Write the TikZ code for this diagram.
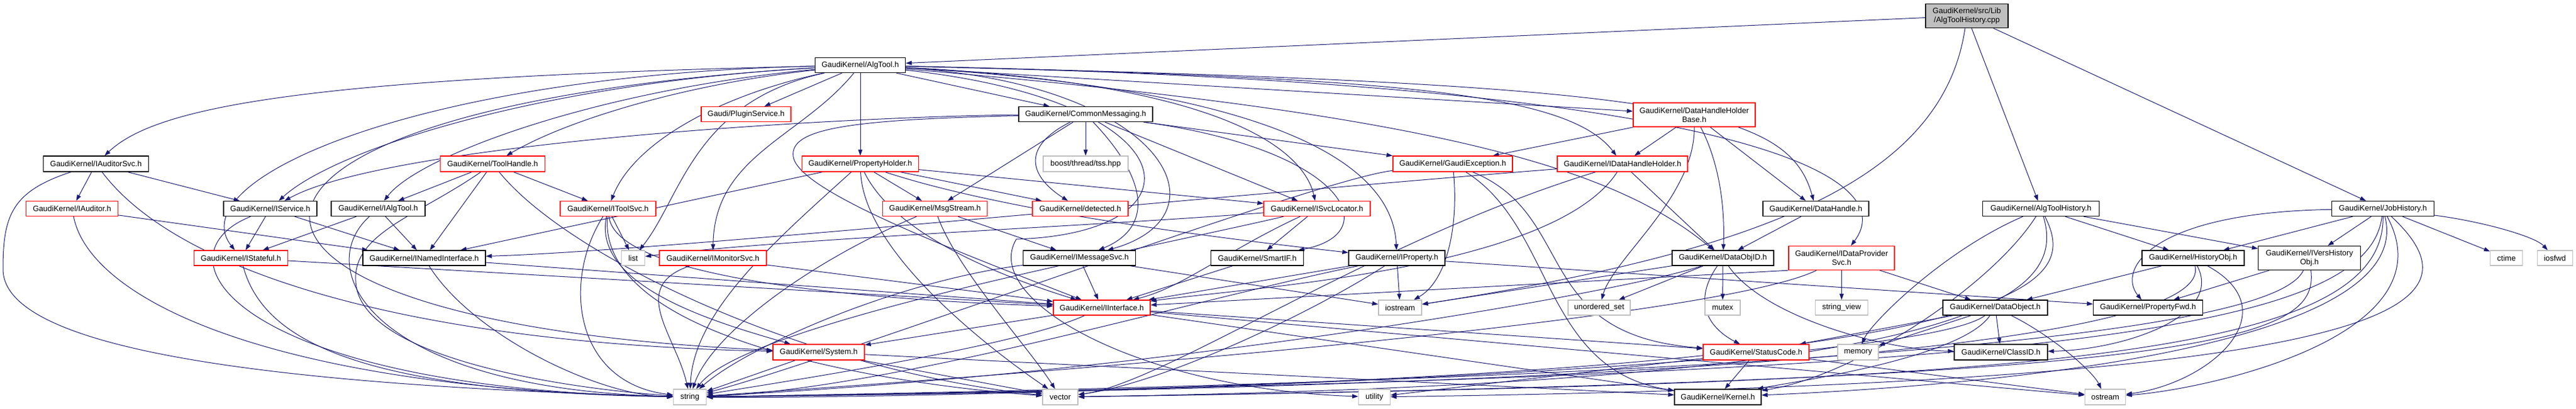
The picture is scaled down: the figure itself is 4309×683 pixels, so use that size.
\documentclass[tikz,border=0pt]{standalone}
\usepackage{fontspec}
\setmainfont{Liberation Sans}
\usetikzlibrary{arrows.meta}
\definecolor{edgeblue}{HTML}{191970}
\definecolor{sysgray}{HTML}{BFBFBF}
\pgfdeclarelayer{bg}
\pgfsetlayers{bg,main}
\begin{document}
\begin{tikzpicture}[x=1pt,y=-1pt]
    \tikzstyle{hdr}=[draw=black, line width=1.3pt, fill=white, inner sep=0pt, align=center, font=\fontsize{13}{15}\selectfont]
    \tikzstyle{trunc}=[hdr, draw=red]
    \tikzstyle{sys}=[hdr, draw=sysgray]
    \tikzstyle{root}=[hdr, fill=sysgray]
    \tikzstyle{incl}=[draw=edgeblue, line width=1pt, -{Triangle[length=10pt,width=7pt]}]
    \useasboundingbox (0,0) rectangle (4309,683);
    % row 0 and 1
    \node[root, minimum width=138, minimum height=40] (cpp) at (3290,26.5) {GaudiKernel/src/Lib\\/AlgToolHistory.cpp};
    \node[hdr, minimum width=151, minimum height=25] (AlgTool) at (1439,109) {GaudiKernel/AlgTool.h};
    % row 2
    \node[trunc, minimum width=150, minimum height=25] (PluginService) at (1248,191) {Gaudi/PluginService.h};
    \node[hdr, minimum width=224, minimum height=25] (CommonMessaging) at (1816,191) {GaudiKernel/CommonMessaging.h};
    \node[trunc, minimum width=204, minimum height=40] (DataHandleHolderBase) at (2834,192) {GaudiKernel/DataHandleHolder\\Base.h};
    % row 3
    \node[hdr, minimum width=176, minimum height=26] (IAuditorSvc) at (160.5,274) {GaudiKernel/IAuditorSvc.h};
    \node[trunc, minimum width=175, minimum height=26] (ToolHandle) at (824,274) {GaudiKernel/ToolHandle.h};
    \node[trunc, minimum width=195, minimum height=26] (PropertyHolder) at (1439,274) {GaudiKernel/PropertyHolder.h};
    \node[sys, minimum width=142, minimum height=26] (boost) at (1816,274) {boost/thread/tss.hpp};
    \node[trunc, minimum width=200, minimum height=26] (GaudiException) at (2430,274) {GaudiKernel/GaudiException.h};
    \node[trunc, minimum width=218, minimum height=26] (IDataHandleHolder) at (2714,274) {GaudiKernel/IDataHandleHolder.h};
    % row 4
    \node[trunc, minimum width=154, minimum height=25] (IAuditor) at (120.5,349) {GaudiKernel/IAuditor.h};
    \node[hdr, minimum width=156, minimum height=25] (IService) at (452,349) {GaudiKernel/IService.h};
    \node[hdr, minimum width=157, minimum height=25] (IAlgTool) at (632.5,349) {GaudiKernel/IAlgTool.h};
    \node[trunc, minimum width=160, minimum height=25] (IToolSvc) at (1017,349) {GaudiKernel/IToolSvc.h};
    \node[trunc, minimum width=175, minimum height=25] (MsgStream) at (1564,349) {GaudiKernel/MsgStream.h};
    \node[trunc, minimum width=160, minimum height=25] (detected) at (1807,349) {GaudiKernel/detected.h};
    \node[trunc, minimum width=178, minimum height=25] (ISvcLocator) at (2203,349) {GaudiKernel/ISvcLocator.h};
    \node[hdr, minimum width=177, minimum height=25] (DataHandle) at (3037.5,349) {GaudiKernel/DataHandle.h};
    \node[hdr, minimum width=195, minimum height=25] (AlgToolHistory) at (3414,349) {GaudiKernel/AlgToolHistory.h};
    \node[hdr, minimum width=171, minimum height=25] (JobHistory) at (3986,349) {GaudiKernel/JobHistory.h};
    % row 5
    \node[trunc, minimum width=157, minimum height=25] (IStateful) at (403,431.5) {GaudiKernel/IStateful.h};
    \node[hdr, minimum width=205, minimum height=25] (INamedInterface) at (709.5,431.5) {GaudiKernel/INamedInterface.h};
    \node[sys, minimum width=39, minimum height=25] (list) at (1059,431.5) {list};
    \node[trunc, minimum width=179, minimum height=25] (IMonitorSvc) at (1192.5,431.5) {GaudiKernel/IMonitorSvc.h};
    \node[hdr, minimum width=188, minimum height=25] (IMessageSvc) at (1805.6,431.5) {GaudiKernel/IMessageSvc.h};
    \node[hdr, minimum width=155, minimum height=25] (SmartIF) at (2103,431.5) {GaudiKernel/SmartIF.h};
    \node[hdr, minimum width=161, minimum height=25] (IProperty) at (2336.5,431.5) {GaudiKernel/IProperty.h};
    \node[hdr, minimum width=170, minimum height=25] (DataObjID) at (2882,431.5) {GaudiKernel/DataObjID.h};
    \node[trunc, minimum width=177, minimum height=40] (IDataProviderSvc) at (3080.5,431.5) {GaudiKernel/IDataProvider\\Svc.h};
    \node[hdr, minimum width=171, minimum height=25] (HistoryObj) at (3668.5,431.5) {GaudiKernel/HistoryObj.h};
    \node[hdr, minimum width=171, minimum height=40] (IVersHistoryObj) at (3863,431.5) {GaudiKernel/IVersHistory\\Obj.h};
    \node[sys, minimum width=54, minimum height=25] (ctime) at (4192.7,431.5) {ctime};
    \node[sys, minimum width=59, minimum height=25] (iosfwd) at (4273.7,431.5) {iosfwd};
    % row 6
    \node[trunc, minimum width=162, minimum height=25] (IInterface) at (1843,514.5) {GaudiKernel/IInterface.h};
    \node[sys, minimum width=72, minimum height=25] (iostream) at (2342,514.5) {iostream};
    \node[sys, minimum width=104, minimum height=25] (unorderedset) at (2675,514.5) {unordered\_set};
    \node[sys, minimum width=59, minimum height=25] (mutex) at (2881.5,514.5) {mutex};
    \node[sys, minimum width=88, minimum height=25] (stringview) at (3080.5,514.5) {string\_view};
    \node[hdr, minimum width=175, minimum height=25] (DataObject) at (3337.5,514.5) {GaudiKernel/DataObject.h};
    \node[hdr, minimum width=183, minimum height=25] (PropertyFwd) at (3593,514.5) {GaudiKernel/PropertyFwd.h};
    % row 7
    \node[trunc, minimum width=153, minimum height=26] (System) at (1369.5,589) {GaudiKernel/System.h};
    \node[trunc, minimum width=177, minimum height=26] (StatusCode) at (2937.5,589) {GaudiKernel/StatusCode.h};
    \node[sys, minimum width=68, minimum height=26] (memory) at (3108,589) {memory};
    \node[hdr, minimum width=156, minimum height=26] (ClassID) at (3347,589) {GaudiKernel/ClassID.h};
    % row 8
    \node[sys, minimum width=55, minimum height=26] (string) at (1154,664) {string};
    \node[sys, minimum width=59, minimum height=26] (vector) at (1773.5,664) {vector};
    \node[sys, minimum width=53, minimum height=26] (utility) at (2299,664) {utility};
    \node[hdr, minimum width=145, minimum height=26] (Kernel) at (2873.5,664) {GaudiKernel/Kernel.h};
    \node[sys, minimum width=68, minimum height=26] (ostream) at (3521.5,664) {ostream};
    \begin{pgfonlayer}{bg}
    % source file
    \draw[incl] (cpp) -- (AlgTool);
    \draw[incl] (cpp) .. controls (3250,300) and (2950,420) .. (iostream);
    \draw[incl] (cpp) -- (AlgToolHistory);
    \draw[incl] (cpp) -- (JobHistory);
    % AlgTool.h
    \draw[incl] (AlgTool) .. controls (500,130) and (260,180) .. (IAuditorSvc);
    \draw[incl] (AlgTool) .. controls (700,125) and (300,300) .. (IStateful);
    \draw[incl] (AlgTool) .. controls (900,140) and (560,250) .. (IService);
    \draw[incl] (AlgTool) .. controls (1000,150) and (700,260) .. (IAlgTool);
    \draw[incl] (AlgTool) .. controls (250,180) and (250,540) .. (System);
    \draw[incl] (AlgTool) .. controls (1150,140) and (950,200) .. (ToolHandle);
    \draw[incl] (AlgTool) .. controls (1200,160) and (1060,240) .. (IToolSvc);
    \draw[incl] (AlgTool) .. controls (1160,170) and (1140,330) .. (list);
    \draw[incl] (AlgTool) -- (PluginService);
    \draw[incl] (AlgTool) .. controls (1340,230) and (1195,260) .. (IMonitorSvc);
    \draw[incl] (AlgTool) -- (PropertyHolder);
    \draw[incl] (AlgTool) -- (CommonMessaging);
    \draw[incl] (AlgTool) .. controls (1950,140) and (2060,360) .. (IMessageSvc);
    \draw[incl] (AlgTool) .. controls (2050,140) and (2180,250) .. (ISvcLocator);
    \draw[incl] (AlgTool) .. controls (2150,150) and (2330,280) .. (IProperty);
    \draw[incl] (AlgTool) .. controls (2300,130) and (2620,150) .. (IDataHandleHolder);
    \draw[incl] (AlgTool) -- (DataHandleHolderBase);
    \draw[incl] (AlgTool) .. controls (2800,140) and (2990,180) .. (DataHandle);
    \draw[incl] (AlgTool) .. controls (2950,140) and (3180,300) .. (IDataProviderSvc);
    \draw[incl] (AlgTool) .. controls (2400,190) and (2700,280) .. (DataObjID);
    \draw[incl] (AlgTool) .. controls (2000,170) and (2020,390) .. (1700,400) .. controls (1640,500) and (1900,650) .. (utility);
    % IAuditorSvc.h and the interfaces
    \draw[incl] (IAuditorSvc) -- (IAuditor);
    \draw[incl] (IAuditorSvc) -- (IService);
    \draw[incl] (IAuditorSvc) .. controls (300,460) and (700,575) .. (System);
    \draw[incl] (IAuditorSvc) .. controls (20,320) and (5,360) .. (5,450) .. controls (5,560) and (300,640) .. (string);
    \draw[incl] (IAuditor) -- (INamedInterface);
    \draw[incl] (IAuditor) .. controls (150,500) and (450,650) .. (string);
    \draw[incl] (IService) -- (IStateful);
    \draw[incl] (IService) -- (INamedInterface);
    \draw[incl] (IService) .. controls (250,430) and (400,650) .. (string);
    \draw[incl] (IAlgTool) -- (IStateful);
    \draw[incl] (IAlgTool) -- (INamedInterface);
    \draw[incl] (IAlgTool) .. controls (520,450) and (620,650) .. (string);
    \draw[incl] (IStateful) -- (IInterface);
    \draw[incl] (IStateful) .. controls (440,570) and (600,655) .. (string);
    \draw[incl] (INamedInterface) -- (IInterface);
    \draw[incl] (INamedInterface) .. controls (790,560) and (1000,662) .. (string);
    % ToolHandle.h, IToolSvc.h, IMonitorSvc.h
    \draw[incl] (ToolHandle) -- (IAlgTool);
    \draw[incl] (ToolHandle) -- (INamedInterface);
    \draw[incl] (ToolHandle) -- (IToolSvc);
    \draw[incl] (ToolHandle) .. controls (950,430) and (1350,620) .. (vector);
    \draw[incl] (ToolHandle) .. controls (700,360) and (590,390) .. (595,470) .. controls (600,600) and (950,650) .. (string);
    \draw[incl] (IToolSvc) -- (list);
    \draw[incl] (IToolSvc) .. controls (940,470) and (960,640) .. (string);
    \draw[incl] (IToolSvc) .. controls (990,480) and (1200,540) .. (System);
    \draw[incl] (IToolSvc) .. controls (1030,460) and (1400,500) .. (IInterface);
    \draw[incl] (IToolSvc) .. controls (1000,560) and (1450,640) .. (vector);
    \draw[incl] (IMonitorSvc) -- (IInterface);
    \draw[incl] (IMonitorSvc) .. controls (1050,480) and (1130,560) .. (string);
    % PropertyHolder.h
    \draw[incl] (PropertyHolder) -- (MsgStream);
    \draw[incl] (PropertyHolder) -- (detected);
    \draw[incl] (PropertyHolder) -- (ISvcLocator);
    \draw[incl] (PropertyHolder) -- (INamedInterface);
    \draw[incl] (PropertyHolder) .. controls (1700,360) and (2100,405) .. (IProperty);
    \draw[incl] (PropertyHolder) .. controls (1300,400) and (1160,520) .. (string);
    \draw[incl] (PropertyHolder) .. controls (1445,420) and (1650,580) .. (vector);
    \draw[incl] (PropertyHolder) .. controls (1500,400) and (1700,470) .. (IInterface);
    % CommonMessaging.h
    \draw[incl] (CommonMessaging) -- (boost);
    \draw[incl] (CommonMessaging) -- (MsgStream);
    \draw[incl] (CommonMessaging) .. controls (1700,250) and (1730,300) .. (detected);
    \draw[incl] (CommonMessaging) .. controls (1920,300) and (1930,380) .. (IMessageSvc);
    \draw[incl] (CommonMessaging) -- (ISvcLocator);
    \draw[incl] (CommonMessaging) -- (GaudiException);
    \draw[incl] (CommonMessaging) .. controls (2250,250) and (2320,390) .. (SmartIF);
    \draw[incl] (CommonMessaging) .. controls (1400,195) and (650,240) .. (IService);
    \draw[incl] (CommonMessaging) .. controls (1420,200) and (1320,215) .. (1327,262) .. controls (1335,320) and (1600,420) .. (IInterface);
    % MsgStream.h, IMessageSvc.h, ISvcLocator.h, SmartIF.h
    \draw[incl] (MsgStream) -- (IMessageSvc);
    \draw[incl] (MsgStream) .. controls (1350,440) and (1190,560) .. (string);
    \draw[incl] (MsgStream) .. controls (1600,450) and (1720,580) .. (vector);
    \draw[incl] (IMessageSvc) -- (IInterface);
    \draw[incl] (IMessageSvc) .. controls (1500,470) and (1250,580) .. (string);
    \draw[incl] (IMessageSvc) -- (iostream);
    \draw[incl] (ISvcLocator) .. controls (1800,380) and (1300,400) .. (list);
    \draw[incl] (ISvcLocator) .. controls (2050,420) and (1980,480) .. (IInterface);
    \draw[incl] (ISvcLocator) -- (SmartIF);
    \draw[incl] (ISvcLocator) .. controls (1900,420) and (1250,540) .. (string);
    \draw[incl] (SmartIF) -- (IInterface);
    % IProperty.h
    \draw[incl] (IProperty) -- (iostream);
    \draw[incl] (IProperty) -- (PropertyFwd);
    \draw[incl] (IProperty) -- (IInterface);
    \draw[incl] (IProperty) .. controls (2000,500) and (1500,650) .. (string);
    \draw[incl] (IProperty) .. controls (2200,520) and (1950,640) .. (vector);
    % GaudiException.h
    \draw[incl] (GaudiException) .. controls (2440,380) and (2420,470) .. (iostream);
    \draw[incl] (GaudiException) .. controls (2200,300) and (1400,600) .. (string);
    \draw[incl] (GaudiException) .. controls (2600,380) and (2580,620) .. (Kernel);
    \draw[incl] (GaudiException) .. controls (2640,360) and (2560,560) .. (StatusCode);
    % data handles
    \draw[incl] (IDataHandleHolder) -- (DataObjID);
    \draw[incl] (IDataHandleHolder) .. controls (2600,450) and (2100,480) .. (IInterface);
    \draw[incl] (IDataHandleHolder) .. controls (2000,330) and (1100,420) .. (INamedInterface);
    \draw[incl] (IDataHandleHolder) .. controls (2300,400) and (1950,640) .. (vector);
    \draw[incl] (DataHandleHolderBase) -- (GaudiException);
    \draw[incl] (DataHandleHolderBase) -- (IDataHandleHolder);
    \draw[incl] (DataHandleHolderBase) -- (DataHandle);
    \draw[incl] (DataHandleHolderBase) .. controls (2880,280) and (2885,360) .. (DataObjID);
    \draw[incl] (DataHandleHolderBase) .. controls (2835,330) and (2700,430) .. (unorderedset);
    \draw[incl] (DataHandle) -- (DataObjID);
    \draw[incl] (DataObjID) -- (mutex);
    \draw[incl] (DataObjID) .. controls (2820,520) and (2880,560) .. (StatusCode);
    \draw[incl] (DataObjID) .. controls (2950,530) and (3150,585) .. (ClassID);
    \draw[incl] (DataObjID) -- (unorderedset);
    \draw[incl] (DataObjID) -- (iostream);
    \draw[incl] (DataObjID) .. controls (2750,480) and (2000,620) .. (string);
    % IDataProviderSvc.h, DataObject.h
    \draw[incl] (IDataProviderSvc) -- (stringview);
    \draw[incl] (IDataProviderSvc) -- (DataObject);
    \draw[incl] (IDataProviderSvc.south west) -- (IInterface);
    \draw[incl] (IDataProviderSvc) .. controls (2900,520) and (2100,600) .. (string);
    \draw[incl] (DataObject) -- (ClassID);
    \draw[incl] (DataObject) -- (StatusCode);
    \draw[incl] (DataObject) -- (memory);
    \draw[incl] (DataObject) .. controls (3430,560) and (3500,620) .. (ostream);
    \draw[incl] (DataObject) .. controls (3280,600) and (2990,640) .. (Kernel);
    \draw[incl] (DataObject) .. controls (3200,620) and (1600,668) .. (string);
    % StatusCode.h, IInterface.h, System.h
    \draw[incl] (StatusCode) -- (Kernel);
    \draw[incl] (StatusCode) -- (ostream);
    \draw[incl] (StatusCode) -- (utility);
    \draw[incl] (IInterface) -- (System);
    \draw[incl] (IInterface) -- (StatusCode);
    \draw[incl] (IInterface) -- (Kernel);
    \draw[incl] (IInterface) -- (ostream);
    \draw[incl] (IInterface) .. controls (1700,580) and (1300,640) .. (string);
    \draw[incl] (System) -- (string);
    \draw[incl] (System) -- (vector);
    \draw[incl] (System) -- (Kernel);
    % AlgToolHistory.h
    \draw[incl] (AlgToolHistory) -- (HistoryObj);
    \draw[incl] (AlgToolHistory) -- (IVersHistoryObj);
    \draw[incl] (AlgToolHistory) .. controls (3250,420) and (3130,540) .. (memory);
    \draw[incl] (AlgToolHistory) .. controls (3330,480) and (3100,630) .. (Kernel);
    \draw[incl] (AlgToolHistory) .. controls (3480,480) and (3440,640) .. (string);
    \draw[incl] (AlgToolHistory) .. controls (3460,500) and (3300,640) .. (vector);
    % JobHistory.h
    \draw[incl] (JobHistory) -- (HistoryObj);
    \draw[incl] (JobHistory) -- (IVersHistoryObj);
    \draw[incl] (JobHistory) -- (ctime);
    \draw[incl] (JobHistory) .. controls (4150,370) and (4240,395) .. (iosfwd);
    \draw[incl] (JobHistory) .. controls (3600,355) and (3540,450) .. (PropertyFwd);
    \draw[incl] (JobHistory) .. controls (3960,560) and (3400,630) .. (string);
    \draw[incl] (JobHistory) .. controls (3990,600) and (3400,640) .. (vector);
    \draw[incl] (JobHistory) .. controls (4170,520) and (4000,640) .. (utility);
    \draw[incl] (JobHistory) .. controls (4100,560) and (3700,650) .. (ostream);
    \draw[incl] (JobHistory) .. controls (4050,600) and (3200,650) .. (Kernel);
    % HistoryObj.h, IVersHistoryObj.h
    \draw[incl] (HistoryObj) -- (DataObject);
    \draw[incl] (HistoryObj) .. controls (3720,530) and (3550,585) .. (ClassID);
    \draw[incl] (HistoryObj) .. controls (3830,520) and (3700,640) .. (ostream);
    \draw[incl] (HistoryObj) .. controls (3700,560) and (3000,645) .. (string);
    \draw[incl] (IVersHistoryObj) -- (PropertyFwd);
    \draw[incl] (IVersHistoryObj) .. controls (3820,520) and (3500,625) .. (string);
    \draw[incl] (IVersHistoryObj) .. controls (3880,570) and (3700,635) .. (vector);
    \end{pgfonlayer}
\end{tikzpicture}
\end{document}
